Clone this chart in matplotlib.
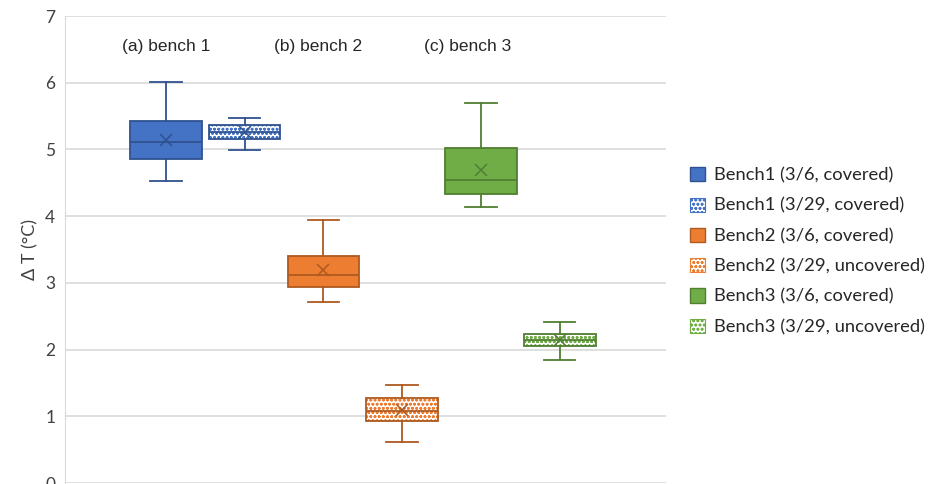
import matplotlib.pyplot as plt
from matplotlib.patches import Patch, PathPatch

plt.rcParams["font.family"] = ["Lato", "DejaVu Sans"]
plt.rcParams["hatch.linewidth"] = 0.8

# box statistics (deg C)
series = [
    "Bench1 (3/6, covered)",
    "Bench1 (3/29, covered)",
    "Bench2 (3/6, covered)",
    "Bench2 (3/29, uncovered)",
    "Bench3 (3/6, covered)",
    "Bench3 (3/29, uncovered)",
]
whis_lo = [4.52, 4.99, 2.72, 0.61, 4.14, 1.84]
q1 = [4.85, 5.16, 2.94, 0.93, 4.33, 2.06]
median = [5.11, 5.26, 3.12, 1.08, 4.54, 2.14]
q3 = [5.42, 5.36, 3.41, 1.27, 5.02, 2.23]
whis_hi = [6.01, 5.47, 3.94, 1.47, 5.70, 2.42]
mean = [5.14, 5.26, 3.19, 1.09, 4.69, 2.14]
hatched = [False, True, False, True, False, True]

panel_labels = ["(a) bench 1", "(b) bench 2", "(c) bench 3"]
panel_x = [0.0, 1.93, 3.83]

fill = ["#4472C4", "#4472C4", "#ED7D31", "#ED7D31", "#70AD47", "#70AD47"]
edge = ["#2F528F", "#2F528F", "#AE5A21", "#AE5A21", "#507E32", "#507E32"]

stats = [
    {"whislo": whis_lo[i], "q1": q1[i], "med": median[i], "q3": q3[i],
     "whishi": whis_hi[i], "mean": mean[i], "fliers": []}
    for i in range(len(series))
]

fig = plt.figure(figsize=(9.36, 4.84), dpi=100)
ax = fig.add_axes([65 / 936, 1 / 484, 601 / 936, 467 / 484])

pos = list(range(len(series)))
bp = ax.bxp(stats, positions=pos, widths=0.91, patch_artist=True,
            showmeans=True, zorder=3)

handles = []
for i, box in enumerate(bp["boxes"]):
    if hatched[i]:
        # hatch takes the edge colour, so draw the outline as a second patch
        box.set_facecolor("white")
        box.set_edgecolor(fill[i])
        box.set_hatch("oooo")
        box.set_linewidth(0)
        ax.add_patch(PathPatch(box.get_path(), fill=False, edgecolor=edge[i],
                               linewidth=1.3, zorder=3.5))
        handles.append(Patch(facecolor="white", edgecolor=fill[i], hatch="oooo",
                             linewidth=0.8, label=series[i]))
    else:
        box.set_facecolor(fill[i])
        box.set_edgecolor(edge[i])
        box.set_linewidth(1.3)
        handles.append(Patch(facecolor=fill[i], edgecolor=edge[i],
                             linewidth=1, label=series[i]))
    bp["medians"][i].set(color=edge[i], linewidth=1.3)
    bp["means"][i].set(marker="x", markeredgecolor=edge[i], markersize=9,
                       markeredgewidth=1.1)
    for ln in bp["whiskers"][2 * i:2 * i + 2] + bp["caps"][2 * i:2 * i + 2]:
        ln.set(color=edge[i], linewidth=1.3)
for cap in bp["caps"]:
    xd = cap.get_xdata()
    c = (xd[0] + xd[1]) / 2
    cap.set_xdata([c - 0.2, c + 0.2])

for lab, x in zip(panel_labels, panel_x):
    ax.text(x, 6.55, lab, ha="center", va="center", fontsize=12.5,
            family=["Liberation Sans", "DejaVu Sans"], color="#262626")

ax.set_xlim(-1.28, 6.35)
ax.set_ylim(0, 7)
ax.set_yticks(range(8))
ax.set_xticks([])
ax.grid(axis="y", color="#D9D9D9", linewidth=1.2, zorder=0)
ax.set_axisbelow(True)
for s in ["top", "right", "bottom"]:
    ax.spines[s].set_visible(False)
ax.spines["left"].set_color("#D9D9D9")
ax.tick_params(axis="y", length=0, labelsize=12.5, labelcolor="#404040", pad=7)
ax.set_ylabel("Δ T (°C)", fontsize=13, color="#404040", labelpad=5)

fig.legend(handles=handles, loc="center left", bbox_to_anchor=(0.72, 0.481),
           frameon=False, fontsize=13.2, handlelength=0.8, handleheight=0.8,
           handletextpad=0.5, labelspacing=0.76, labelcolor="#262626")

fig.savefig("out.png", dpi=100)
